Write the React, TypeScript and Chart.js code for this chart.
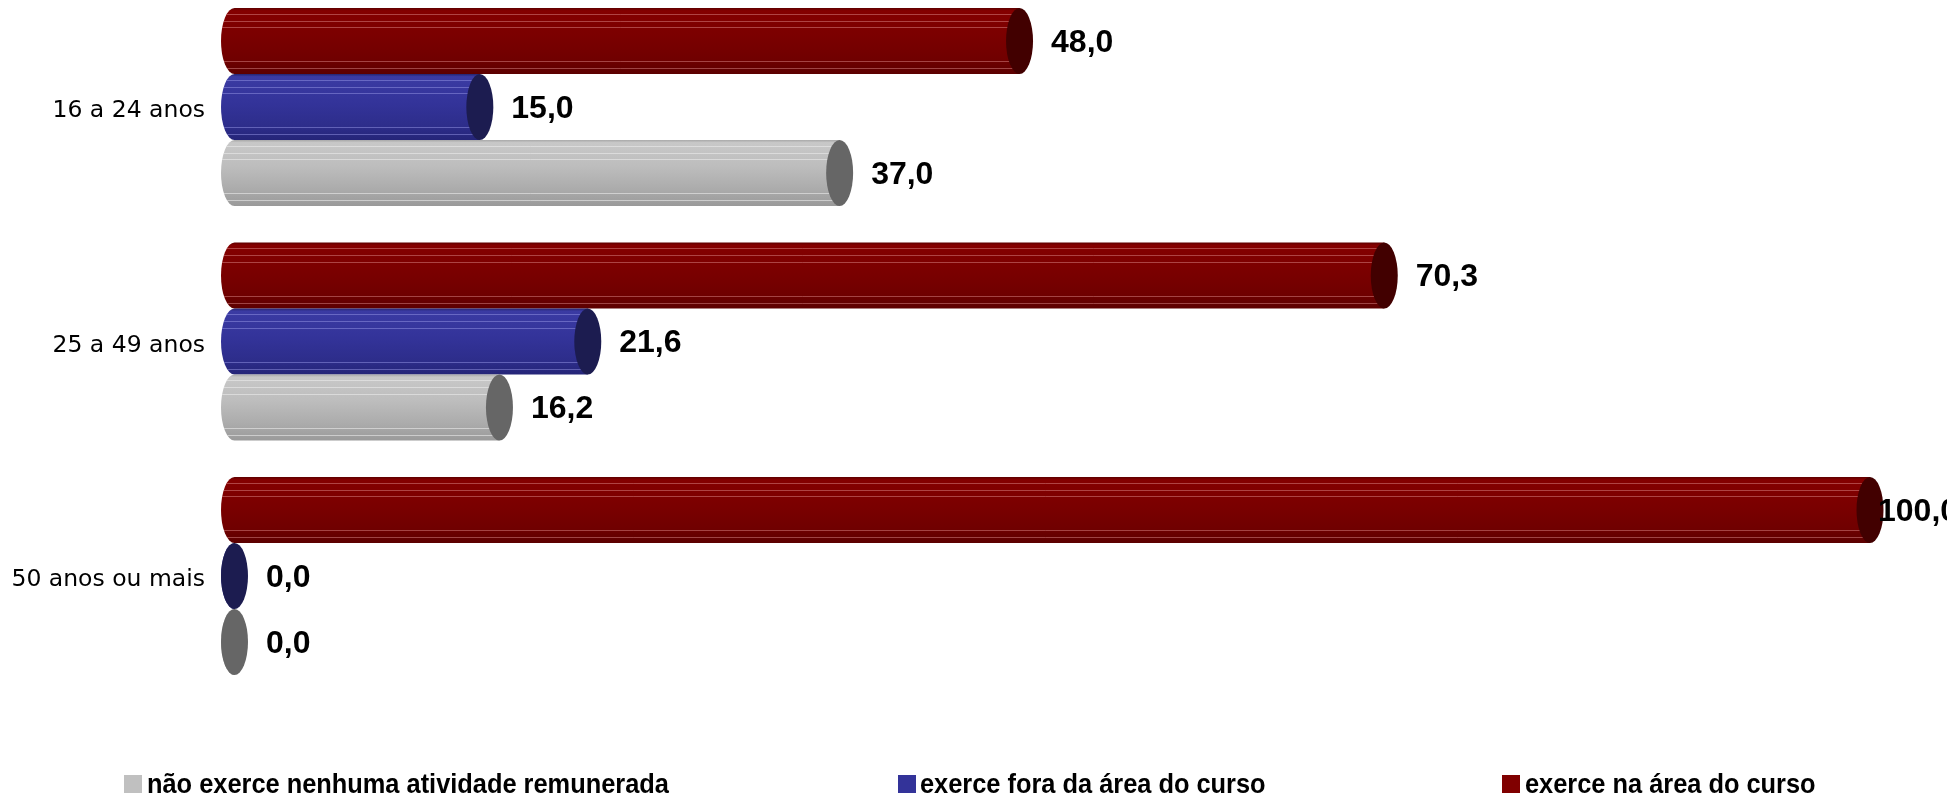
import React, { useEffect, useRef } from "react";
import { Chart, registerables } from "chart.js";

Chart.register(...registerables);

// ---------- data ----------
const categories = ["16 a 24 anos", "25 a 49 anos", "50 anos ou mais"];
const naArea = [48.0, 70.3, 100.0];
const foraArea = [15.0, 21.6, 0.0];
const naoExerce = [37.0, 16.2, 0.0];
const seriesNames = [
  "exerce na área do curso",
  "exerce fora da área do curso",
  "não exerce nenhuma atividade remunerada",
];
const xMin = 0;
const xMax = 100;

// ---------- styles ----------
const styles = [
  {
    legend: "#800000",
    stops: [
      [0, "#5e0000"],
      [0.04, "#840000"],
      [0.45, "#7a0000"],
      [0.78, "#700000"],
      [1, "#5c0000"],
    ],
    cap: "#420000",
    stripe: "rgba(230,150,150,0.45)",
  },
  {
    legend: "#333399",
    stops: [
      [0, "#24246e"],
      [0.04, "#3b3ba3"],
      [0.45, "#333399"],
      [0.8, "#2d2d8a"],
      [1, "#252578"],
    ],
    cap: "#1c1c50",
    stripe: "rgba(150,150,230,0.5)",
  },
  {
    legend: "#c0c0c0",
    stops: [
      [0, "#a8a8a8"],
      [0.04, "#c8c8c8"],
      [0.4, "#bdbdbd"],
      [0.75, "#ababab"],
      [1, "#9a9a9a"],
    ],
    cap: "#666666",
    stripe: "rgba(235,235,235,0.6)",
  },
];
const stripeFractions = [0.09, 0.19, 0.29, 0.81, 0.91];
const CAP_RX = 13.5;

const fmt = (v: number) => v.toFixed(1).replace(".", ",");

const cylinderPlugin = {
  id: "cylinders",
  afterDatasetsDraw(chart: any) {
    const ctx = chart.ctx as CanvasRenderingContext2D;
    const area = chart.chartArea;
    chart.data.datasets.forEach((ds: any, di: number) => {
      const meta = chart.getDatasetMeta(di);
      const st = styles[di];
      meta.data.forEach((el: any, i: number) => {
        const { x, y, base, height } = el.getProps(["x", "y", "base", "height"], true);
        const h = height;
        const top = y - h / 2;
        const bot = y + h / 2;
        const ry = h / 2;
        // body
        ctx.save();
        const g = ctx.createLinearGradient(0, top, 0, bot);
        st.stops.forEach((s: any) => g.addColorStop(s[0], s[1]));
        ctx.beginPath();
        ctx.moveTo(x, top);
        ctx.lineTo(base, top);
        ctx.ellipse(base, y, CAP_RX, ry, 0, -Math.PI / 2, Math.PI / 2, true);
        ctx.lineTo(x, bot);
        ctx.closePath();
        ctx.fillStyle = g;
        ctx.fill();
        ctx.clip();
        ctx.strokeStyle = st.stripe;
        ctx.lineWidth = 1;
        stripeFractions.forEach((f) => {
          const yy = Math.round(top + f * h) + 0.5;
          ctx.beginPath();
          ctx.moveTo(base - CAP_RX, yy);
          ctx.lineTo(x, yy);
          ctx.stroke();
        });
        ctx.restore();
        // end cap
        ctx.save();
        ctx.beginPath();
        ctx.ellipse(x, y, CAP_RX, ry, 0, 0, Math.PI * 2);
        ctx.fillStyle = st.cap;
        ctx.fill();
        ctx.restore();
        // value label
        const v = ds.data[i];
        ctx.save();
        ctx.font = "bold 32px 'Liberation Sans', Arial, sans-serif";
        ctx.fillStyle = "#000";
        ctx.textAlign = "left";
        ctx.textBaseline = "middle";
        const lx = Math.min(x + CAP_RX + 18, area.right + 8);
        ctx.fillText(fmt(v), lx, y + 2);
        ctx.restore();
      });
    });
  },
};

function Legend() {
  const order = [2, 1, 0];
  const pos = [
    [124, 147],
    [898, 920],
    [1502, 1525],
  ];
  return (
    <>
      {order.map((di, k) => (
        <React.Fragment key={di}>
          <div
            style={{
              position: "absolute",
              left: pos[k][0],
              top: 775,
              width: 18,
              height: 18,
              background: styles[di].legend,
            }}
          />
          <div
            style={{
              position: "absolute",
              left: pos[k][1],
              top: 769,
              font: "bold 27px 'Liberation Sans', Arial, sans-serif",
              lineHeight: "30px",
              whiteSpace: "nowrap",
              color: "#000",
              transform: "scaleX(0.94)",
              transformOrigin: "left center",
            }}
          >
            {seriesNames[di]}
          </div>
        </React.Fragment>
      ))}
    </>
  );
}

export default function App() {
  const ref = useRef<HTMLCanvasElement | null>(null);
  useEffect(() => {
    if (!ref.current) return;
    const chart = new Chart(ref.current, {
      type: "bar",
      data: {
        labels: categories,
        datasets: [
          { label: seriesNames[0], data: naArea, backgroundColor: "rgba(0,0,0,0)" },
          { label: seriesNames[1], data: foraArea, backgroundColor: "rgba(0,0,0,0)" },
          { label: seriesNames[2], data: naoExerce, backgroundColor: "rgba(0,0,0,0)" },
        ],
      },
      options: {
        indexAxis: "y",
        animation: false,
        responsive: true,
        maintainAspectRatio: false,
        devicePixelRatio: 1,
        datasets: { bar: { categoryPercentage: 0.844, barPercentage: 1.0, borderWidth: 0 } },
        layout: { padding: { left: 0, right: 77, top: 49.75, bottom: 100.75 } },
        plugins: { legend: { display: false }, tooltip: { enabled: false }, title: { display: false } },
        scales: {
          x: { display: false, min: xMin, max: xMax },
          y: {
            type: "category",
            grid: { display: false, drawTicks: false },
            border: { display: false },
            ticks: {
              padding: 29.5,
              labelOffset: 4,
              color: "#000",
              font: { family: "'DejaVu Sans', Verdana, sans-serif", size: 23.5 },
            },
            afterFit(scale: any) {
              scale.width = 234.5;
            },
          },
        },
      } as any,
      plugins: [cylinderPlugin],
    });
    return () => chart.destroy();
  }, []);
  return (
    <>
      <div style={{ position: "absolute", left: 0, top: -60, width: 1947, height: 854 }}>
        <canvas ref={ref} />
      </div>
      <Legend />
    </>
  );
}
